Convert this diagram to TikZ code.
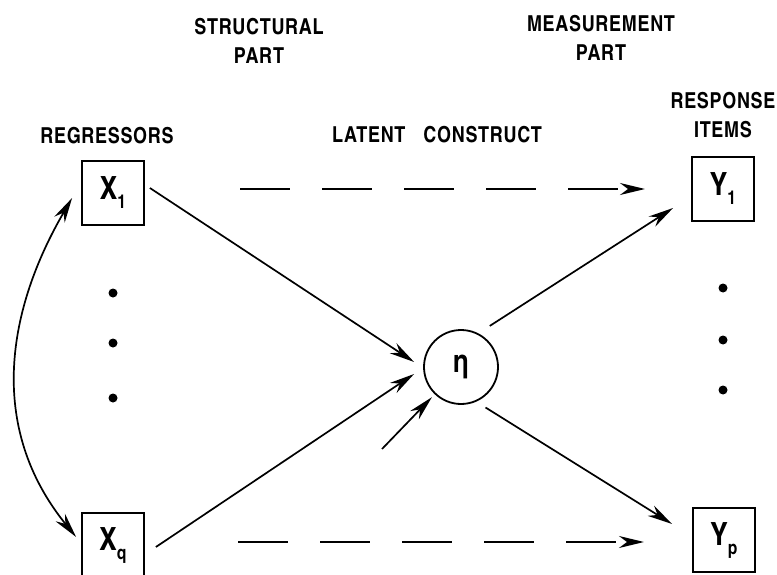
\documentclass[tikz,border=0pt]{standalone}
\usepackage{fontspec}
\setmainfont{texgyreheroscn-bold.otf}[LetterSpace=3]
\usetikzlibrary{arrows.meta,positioning,calc}
\newcommand{\sublabel}[2]{#1\raisebox{-9pt}{\fontsize{19}{19}\selectfont #2}}
\tikzset{
	boxnode/.style={
			draw=black,
			line width=1.8pt,
			minimum width=62pt,
			minimum height=64pt,
			inner sep=0pt,
			font=\fontsize{32}{32}\selectfont
		},
	etanode/.style={
			circle,
			draw=black,
			line width=1.8pt,
			minimum size=74pt,
			inner sep=0pt,
			font=\fontsize{32}{32}\selectfont
		},
	labelnode/.style={
			align=center,
			inner sep=0pt,
			font=\fontsize{22}{29}\selectfont
		},
	dotnode/.style={
			circle,
			fill=black,
			minimum size=9pt,
			inner sep=0pt
		},
	arrowline/.style={
			line width=1.7pt,
			-{Stealth[length=25pt,width=12pt,inset=8pt]}
		},
	dashline/.style={
			arrowline,
			dash pattern=on 50pt off 32pt
		},
	curveline/.style={
			line width=1.7pt,
			{Stealth[length=25pt,width=12pt,inset=8pt]}-{Stealth[length=25pt,width=12pt,inset=8pt]}
		}
}

\begin{document}
\begin{tikzpicture}[x=1pt,y=-1pt]
\useasboundingbox (0,0) rectangle (777,575);

\node[labelnode] (lStruct) at (259,41) {STRUCTURAL\\PART};
\node[labelnode] (lMeas) at (601,38) {MEASUREMENT\\PART};
\node[labelnode] (lResp) at (723,115) {RESPONSE\\ITEMS};
\node[labelnode] (lRegr) at (107,136) {REGRESSORS};
\node[labelnode] (lLatent) at (437,135) {LATENT\hspace{18pt}CONSTRUCT};

\node[boxnode] (X1) at (113,193) {\sublabel{X}{1}};
\node[boxnode] (Xq) at (113,545) {\sublabel{X}{q}};
\node[boxnode] (Y1) at (723,189) {\sublabel{Y}{1}};
\node[boxnode] (Yp) at (724,540) {\sublabel{Y}{p}};
\node[etanode] (eta) at (461,367) {η};

\node[dotnode] (xd1) at (113,293) {};
\node[dotnode] (xd2) at (113,343) {};
\node[dotnode] (xd3) at (113,398) {};
\node[dotnode] (yd1) at (723,288) {};
\node[dotnode] (yd2) at (723,340) {};
\node[dotnode] (yd3) at (723,390) {};

\coordinate (err) at (382,449);
\coordinate (s1) at (240,189);
\coordinate (t1) at (645,189);
\coordinate (sq) at (238,542);
\coordinate (tq) at (644,542);

% structural part
\draw[arrowline] ([shift={(5,-5)}]X1.east) -- ([shift={(-9,-5)}]eta.west);
\draw[arrowline] ([shift={(11,2)}]Xq.east) -- ([shift={(-9,7)}]eta.west);
\draw[arrowline, shorten >=4pt] (err) -- (eta);
\draw[curveline] ([shift={(-9,5)}]X1.west) .. controls (8,308) and (-14,426) .. ([shift={(-5,-8)}]Xq.west);

% measurement part
\draw[arrowline] ([shift={(7,-10)}]eta.55) -- ([shift={(-18,19)}]Y1.west);
\draw[arrowline] ([shift={(5,8)}]eta.-59) -- ([shift={(-20,-16)}]Yp.west);

% direct effects
\draw[dashline] (s1) -- (t1);
\draw[dashline] (sq) -- (tq);

\end{tikzpicture}
\end{document}
